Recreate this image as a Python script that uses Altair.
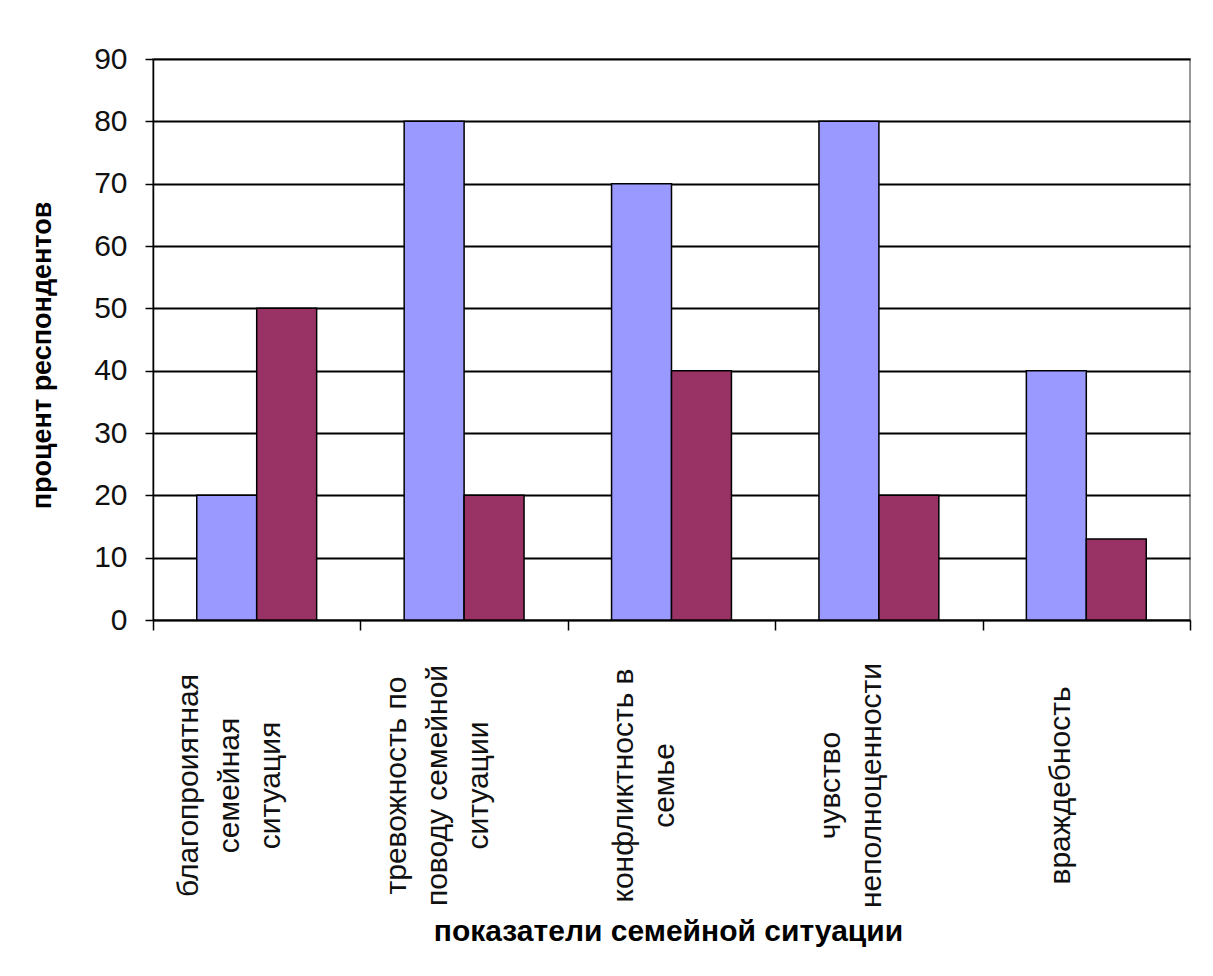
import altair as alt
import pandas as pd

categories = [
    "благопроиятная\nсемейная\nситуация",
    "тревожность по\nповоду семейной\nситуации",
    "конфликтность в\nсемье",
    "чувство\nнеполноценности",
    "враждебность",
]
series_names = ["Ряд1", "Ряд2"]
series1 = [20, 80, 70, 80, 40]
series2 = [50, 20, 40, 20, 13]
colors = ["#9999FF", "#993366"]
y_ticks = [0, 10, 20, 30, 40, 50, 60, 70, 80, 90]

rows = []
for c, a, b in zip(categories, series1, series2):
    rows.append({"category": c, "series": series_names[0], "value": a})
    rows.append({"category": c, "series": series_names[1], "value": b})
df = pd.DataFrame(rows)

FONT = "Liberation Sans"
NLINES = "length(split(datum.label, '\\n'))"

chart = alt.Chart(df).mark_bar(stroke="black", strokeWidth=1.5).encode(
    x=alt.X(
        "category:N",
        sort=categories,
        scale=alt.Scale(paddingInner=0, paddingOuter=0),
        axis=alt.Axis(
            title="показатели семейной ситуации",
            titleFont=FONT,
            titleFontSize=30,
            titleFontWeight="bold",
            titleColor="black",
            titleX=515,
            titleY=320,
            titleBaseline="alphabetic",
            labelExpr="split(datum.label, '\\n')",
            labelAngle=270,
            labelAlign="center",
            labelBaseline="middle",
            labelPadding=155,
            labelOffset={
                "condition": [
                    {"test": NLINES + " == 3", "value": -68},
                    {"test": NLINES + " == 2", "value": -48},
                ],
                "value": -26,
            },
            labelFont=FONT,
            labelFontSize=30,
            labelColor="#111111",
            labelLimit=600,
            labelLineHeight=41,
            domainColor="black",
            domainWidth=1.5,
            tickColor="black",
            tickWidth=1.5,
            tickSize=10,
            tickBand="extent",
            grid=False,
        ),
    ),
    xOffset=alt.XOffset(
        "series:N",
        sort=series_names,
        scale=alt.Scale(paddingInner=0, paddingOuter=0.73),
    ),
    y=alt.Y(
        "value:Q",
        scale=alt.Scale(domain=[0, 90], nice=False),
        axis=alt.Axis(
            values=y_ticks,
            title="процент респондентов",
            titleFont=FONT,
            titleFontSize=27,
            titleFontWeight="bold",
            titleColor="black",
            titleX=-103,
            titleY=296,
            titleBaseline="alphabetic",
            labelFont=FONT,
            labelFontSize=30,
            labelColor="#111111",
            labelPadding=18,
            domainColor="black",
            domainWidth=1.5,
            tickColor="black",
            tickWidth=1.5,
            tickSize=8,
            grid=True,
            gridColor="black",
            gridWidth=1.8,
            gridOpacity=1,
        ),
    ),
    color=alt.Color(
        "series:N",
        sort=series_names,
        scale=alt.Scale(domain=series_names, range=colors),
        legend=None,
    ),
).properties(
    width=1037,
    height=561,
    padding={"left": 145, "top": 51, "right": 15, "bottom": 340},
    autosize=alt.AutoSizeParams(type="none"),
    background="white",
).configure_view(
    stroke="#999999",
    strokeWidth=2,
)

chart.save("out.html", embed_options={"renderer": "svg", "actions": False})
